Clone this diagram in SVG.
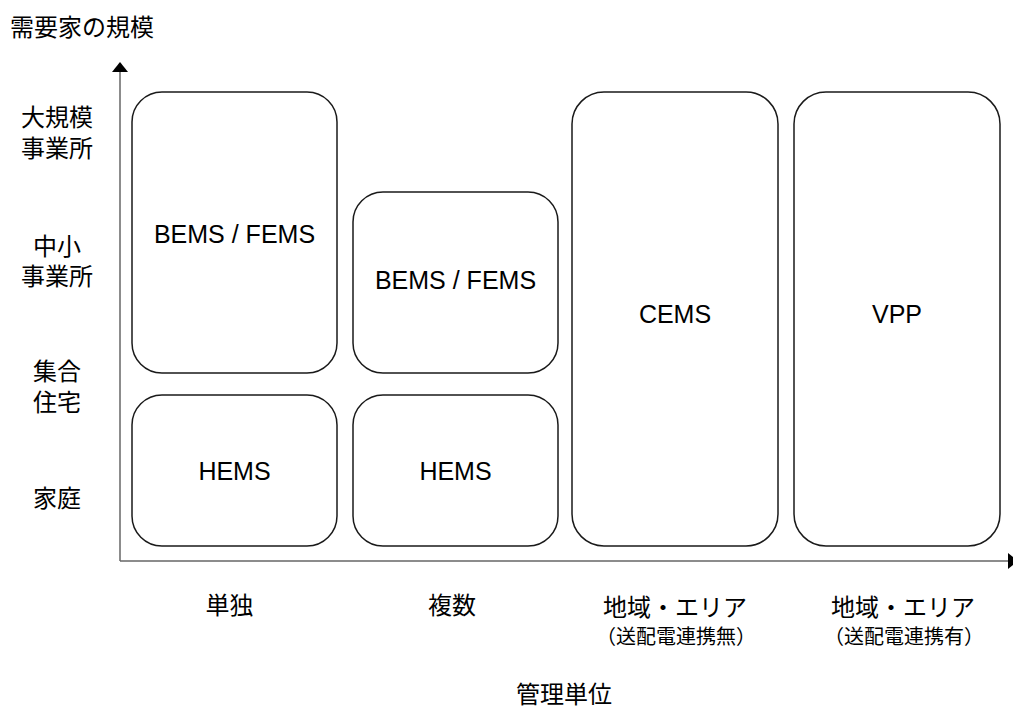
<svg xmlns="http://www.w3.org/2000/svg" width="1013" height="706" viewBox="0 0 1013 706">
<style>
.box{fill:#fff;stroke:#1a1a1a;stroke-width:1.5}
.ax{stroke:#666;stroke-width:1.5;fill:none}
.head{fill:#000}
.lat{font-family:"Liberation Sans",Arial,sans-serif;font-size:25px;fill:#000;text-anchor:middle}
.jp{font-family:"Noto Sans CJK JP","Noto Sans CJK SC",sans-serif;font-size:24px;fill:#000;text-anchor:middle}
.jps{font-family:"Noto Sans CJK JP","Noto Sans CJK SC",sans-serif;font-size:20px;fill:#000;text-anchor:middle}
</style>
<rect width="1013" height="706" fill="#fff"/>
<g id="axes">
<line class="ax" x1="120" y1="72" x2="120" y2="561"/>
<line class="ax" x1="120" y1="561" x2="1008" y2="561"/>
<polygon class="head" points="112,72 120,62 128,72"/>
<polygon class="head" points="1008,553 1018,561 1008,569"/>
</g>
<text class="jp" x="10" y="36" style="text-anchor:start">需要家の規模</text>
<g id="y-labels">
<text class="jp" x="57" y="126">大規模</text>
<text class="jp" x="57" y="157">事業所</text>
<text class="jp" x="57" y="255">中小</text>
<text class="jp" x="57" y="285">事業所</text>
<text class="jp" x="57" y="380">集合</text>
<text class="jp" x="57" y="411">住宅</text>
<text class="jp" x="57" y="507">家庭</text>
</g>
<g id="x-labels">
<text class="jp" x="229.5" y="614">単独</text>
<text class="jp" x="452" y="614">複数</text>
<text class="jp" x="675" y="616">地域・エリア</text>
<text class="jps" x="676" y="644">（送配電連携無）</text>
<text class="jp" x="903" y="616">地域・エリア</text>
<text class="jps" x="904" y="644">（送配電連携有）</text>
<text class="jp" x="564" y="703">管理単位</text>
</g>
<g id="node-bems1">
<rect class="box" x="132" y="92" width="205" height="281" rx="30" ry="30"/>
<text class="lat" x="234.5" y="243">BEMS / FEMS</text>
</g>
<g id="node-bems2">
<rect class="box" x="353" y="192" width="205" height="181" rx="30" ry="30"/>
<text class="lat" x="455.5" y="289">BEMS / FEMS</text>
</g>
<g id="node-hems1">
<rect class="box" x="132" y="395" width="205" height="151" rx="30" ry="30"/>
<text class="lat" x="234.5" y="480">HEMS</text>
</g>
<g id="node-hems2">
<rect class="box" x="353" y="395" width="205" height="151" rx="30" ry="30"/>
<text class="lat" x="455.5" y="480">HEMS</text>
</g>
<g id="node-cems">
<rect class="box" x="572" y="92" width="206" height="454" rx="32" ry="32"/>
<text class="lat" x="675" y="323">CEMS</text>
</g>
<g id="node-vpp">
<rect class="box" x="794" y="92" width="206" height="454" rx="32" ry="32"/>
<text class="lat" x="897" y="323">VPP</text>
</g>
</svg>
